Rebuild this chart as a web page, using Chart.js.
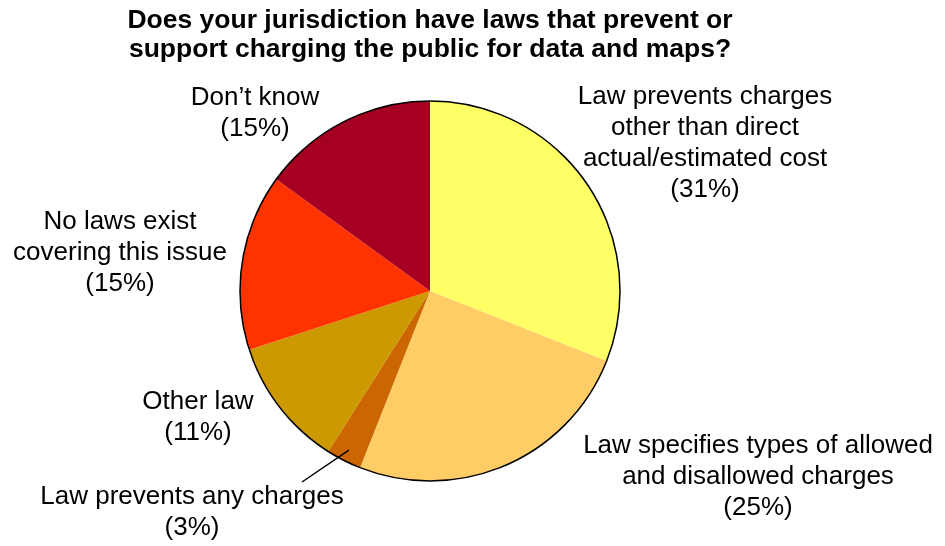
<!DOCTYPE html>
<html>
<head>
<meta charset="utf-8">
<script src="https://cdn.jsdelivr.net/npm/chart.js@4/dist/chart.umd.min.js"></script>
<style>
  html, body { margin: 0; padding: 0; background: #fff; }
  #wrap { width: 945px; height: 546px; }
</style>
</head>
<body>
<div id="wrap"><canvas id="pie-chart" width="945" height="546"></canvas></div>
<script>
const categorias = [
    "Law prevents charges other than direct actual/estimated cost",
    "Law specifies types of allowed and disallowed charges",
    "Law prevents any charges",
    "Other law",
    "No laws exist covering this issue",
    "Don\u2019t know"
]
const valores = [31, 25, 3, 11, 15, 15]
const cores = ["#FFFF66", "#FFCC66", "#CC6600", "#CC9900", "#FF3300", "#A50021"]

// label lines as they are broken in the picture
const rotulos = [
    ["Law prevents charges", "other than direct", "actual/estimated cost", "(31%)"],
    ["Law specifies types of allowed", "and disallowed charges", "(25%)"],
    ["Law prevents any charges", "(3%)"],
    ["Other law", "(11%)"],
    ["No laws exist", "covering this issue", "(15%)"],
    ["Don\u2019t know", "(15%)"]
]
// where each label block sits (center x, first line y)
const posRotulos = [
    [705, 97], [758, 446], [192, 497], [198, 402], [120, 222], [255, 98]
]
const titulo = ["Does your jurisdiction have laws that prevent or",
                "support charging the public for data and maps?"]

const extras = {
    id: 'extras',
    afterDatasetsDraw(chart) {
        const ctx = chart.ctx
        const arcs = chart.getDatasetMeta(0).data
        const a0 = arcs[0]
        ctx.save()
        // outer outline only
        ctx.beginPath()
        ctx.arc(a0.x, a0.y, a0.outerRadius, 0, Math.PI * 2)
        ctx.lineWidth = 1.5
        ctx.strokeStyle = '#000'
        ctx.stroke()

        // leader line for the 3% slice
        const a = arcs[2]
        const mid = (a.startAngle + a.endAngle) / 2
        const r = a.outerRadius * 0.94
        ctx.beginPath()
        ctx.moveTo(a.x + Math.cos(mid) * r, a.y + Math.sin(mid) * r)
        ctx.lineTo(posRotulos[2][0] + 110, posRotulos[2][1] - 15)
        ctx.lineWidth = 1.5
        ctx.stroke()

        // labels
        ctx.fillStyle = '#000'
        ctx.font = '26px "Liberation Sans", Arial, sans-serif'
        ctx.textAlign = 'center'
        ctx.textBaseline = 'middle'
        rotulos.forEach((linhas, i) => {
            const [x, y] = posRotulos[i]
            linhas.forEach((l, j) => ctx.fillText(l, x, y + j * 31))
        })

        // title
        ctx.font = 'bold 26.5px "Liberation Sans", Arial, sans-serif'
        titulo.forEach((l, j) => ctx.fillText(l, 430, 21 + j * 29))
        ctx.restore()
    }
}

new Chart(document.getElementById("pie-chart"), {
    type: 'pie',
    data: {
        labels: categorias,
        datasets: [{
            data: valores,
            backgroundColor: cores,
            borderWidth: 0,
            hoverBorderWidth: 0,
            hoverOffset: 0
        }]
    },
    options: {
        responsive: false,
        animation: false,
        events: [],
        layout: { padding: { left: 240, right: 325, top: 101, bottom: 65 } },
        plugins: {
            legend: { display: false },
            title: { display: false },
            tooltip: { enabled: false }
        }
    },
    plugins: [extras]
});
</script>
</body>
</html>
